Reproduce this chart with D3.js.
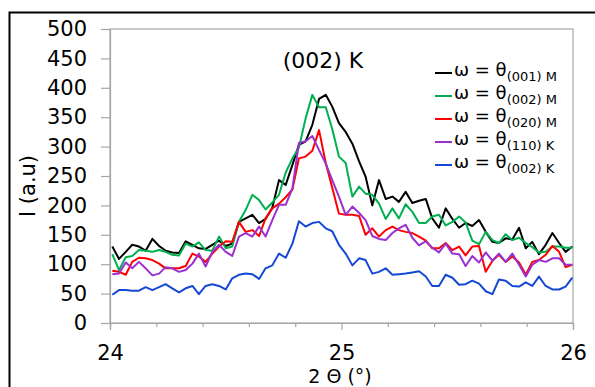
<!DOCTYPE html>
<html>
<head>
<meta charset="utf-8">
<title>(002) K rocking scans</title>
<script src="https://d3js.org/d3.v7.min.js"></script>
<style>
  body { margin: 0; background: #fff; }
  svg text { font-family: Verdana, "DejaVu Sans", sans-serif; fill: #000; }
</style>
</head>
<body>
<svg id="chart" width="595" height="387"></svg>
<script>
// 2 theta positions (deg)
var twoTheta = [24.010, 24.039, 24.068, 24.096, 24.125, 24.154, 24.183, 24.212, 24.240, 24.269,
                24.298, 24.327, 24.356, 24.384, 24.413, 24.442, 24.471, 24.500, 24.528, 24.557,
                24.586, 24.615, 24.644, 24.672, 24.701, 24.730, 24.759, 24.788, 24.816, 24.845,
                24.874, 24.903, 24.932, 24.960, 24.989, 25.018, 25.047, 25.076, 25.104, 25.133,
                25.162, 25.191, 25.220, 25.248, 25.277, 25.306, 25.335, 25.364, 25.392, 25.421,
                25.450, 25.479, 25.508, 25.536, 25.565, 25.594, 25.623, 25.652, 25.680, 25.709,
                25.738, 25.767, 25.796, 25.824, 25.853, 25.882, 25.911, 25.940, 25.968, 25.997];

// intensities (a.u), one list per omega setting
var om001M = [130, 109, 121, 133, 130, 123, 143, 131, 123, 120,
              119, 139, 133, 127, 126, 133, 140, 131, 135, 172,
              178, 184, 170, 177, 196, 243, 235, 269, 303, 309,
              337, 381, 388, 368, 340, 325, 305, 275, 249, 200,
              243, 211, 215, 206, 223, 204, 208, 211, 178, 162,
              195, 177, 162, 170, 165, 175, 155, 138, 136, 144,
              142, 162, 127, 138, 117, 133, 153, 136, 121, 130];
var om002M = [117, 90, 112, 114, 124, 123, 121, 124, 121, 116,
              115, 135, 130, 137, 124, 123, 147, 127, 130, 172,
              192, 218, 209, 193, 205, 218, 256, 280, 298, 348,
              388, 367, 367, 330, 283, 272, 215, 232, 220, 218,
              203, 177, 195, 178, 202, 189, 170, 170, 181, 184,
              166, 172, 181, 171, 140, 134, 155, 141, 136, 151,
              141, 145, 136, 129, 120, 121, 130, 130, 128, 128];
var om020M = [89, 87, 82, 104, 111, 110, 107, 101, 93, 93,
              93, 97, 118, 113, 104, 118, 130, 139, 138, 172,
              155, 158, 148, 178, 195, 203, 214, 227, 280, 283,
              293, 328, 272, 230, 186, 184, 184, 182, 150, 161,
              147, 158, 164, 158, 155, 153, 147, 140, 127, 127,
              136, 124, 130, 115, 130, 131, 87, 106, 116, 104,
              113, 103, 82, 104, 107, 116, 131, 121, 95, 99];
var om110K = [83, 84, 103, 93, 104, 93, 81, 84, 95, 93,
              87, 90, 101, 118, 96, 121, 133, 121, 114, 147,
              153, 147, 164, 147, 175, 201, 201, 229, 306, 309,
              318, 294, 271, 243, 215, 184, 198, 187, 175, 148,
              143, 141, 153, 161, 167, 145, 132, 139, 128, 120,
              135, 118, 117, 97, 114, 103, 120, 106, 118, 104,
              118, 99, 79, 99, 107, 104, 110, 110, 99, 99];
var om002K = [48, 56, 56, 55, 55, 61, 56, 61, 66, 59,
              52, 59, 63, 49, 63, 66, 63, 57, 76, 82,
              84, 83, 75, 93, 98, 118, 111, 135, 173, 164,
              170, 172, 161, 156, 133, 118, 98, 110, 107, 84,
              87, 93, 82, 83, 84, 86, 88, 79, 63, 63,
              82, 77, 65, 66, 72, 67, 54, 49, 74, 72,
              63, 62, 69, 63, 79, 63, 57, 57, 62, 77];

var seriesData = [om001M, om002M, om020M, om110K, om002K];
var seriesSubs = ["(001) M", "(002) M", "(020) M", "(110) K", "(002) K"];
var seriesColors = ["#000000", "#00b050", "#ff0000", "#9b30d0", "#1548d4"];

var yTicks = [0, 50, 100, 150, 200, 250, 300, 350, 400, 450, 500];
var xMajor = [24, 25, 26];
var xMinor = [24.2, 24.4, 24.6, 24.8, 25.2, 25.4, 25.6, 25.8];

var svg = d3.select("#chart");

var plotLeft = 110, plotRight = 573, plotTop = 29, plotBottom = 323;

var x = d3.scaleLinear().domain([24, 26]).range([plotLeft, plotRight]);
var y = d3.scaleLinear().domain([0, 500]).range([plotBottom, plotTop]);

// outer frame of the figure
svg.append("rect")
    .attr("x", 9.5).attr("y", 12.5)
    .attr("width", 620).attr("height", 420)
    .attr("fill", "none").attr("stroke", "#000").attr("stroke-width", 2);

// plot area border
svg.append("rect")
    .attr("x", plotLeft).attr("y", plotTop)
    .attr("width", plotRight - plotLeft).attr("height", plotBottom - plotTop)
    .attr("fill", "none").attr("stroke", "#a6a6a6").attr("stroke-width", 1.2);

// y axis
var yAxis = svg.append("g")
    .attr("transform", "translate(" + plotLeft + ",0)")
    .call(d3.axisLeft(y).tickValues(yTicks).tickSize(9).tickPadding(14));
yAxis.selectAll("path, line").attr("stroke", "#a6a6a6").attr("stroke-width", 1.2);
yAxis.selectAll("text").style("font-size", "21px")
    .style("font-family", "Verdana, 'DejaVu Sans', sans-serif");

// x axis, minor then major ticks
var xMinorAxis = svg.append("g")
    .attr("transform", "translate(0," + plotBottom + ")")
    .call(d3.axisBottom(x).tickValues(xMinor).tickSize(4).tickFormat(""));
xMinorAxis.selectAll("path, line").attr("stroke", "#a6a6a6").attr("stroke-width", 1.2);

var xAxis = svg.append("g")
    .attr("transform", "translate(0," + plotBottom + ")")
    .call(d3.axisBottom(x).tickValues(xMajor).tickSize(7).tickPadding(15).tickFormat(d3.format("d")));
xAxis.selectAll("path, line").attr("stroke", "#a6a6a6").attr("stroke-width", 1.2);
xAxis.selectAll("text").style("font-size", "21px")
    .style("font-family", "Verdana, 'DejaVu Sans', sans-serif");

// axis titles
svg.append("text")
    .attr("transform", "translate(35,186) rotate(-90)")
    .attr("text-anchor", "middle")
    .style("font-size", "21px")
    .text("I (a.u)");

svg.append("text")
    .attr("x", 340).attr("y", 383)
    .attr("text-anchor", "middle")
    .style("font-size", "19px")
    .text("2 Θ (°)");

// lines
var line = d3.line()
    .x(function(d, i) { return x(twoTheta[i]); })
    .y(function(d) { return y(d); });

seriesData.forEach(function(s, k) {
    svg.append("path")
        .datum(s)
        .attr("fill", "none")
        .attr("stroke", seriesColors[k])
        .attr("stroke-width", 2)
        .attr("stroke-linejoin", "round")
        .attr("d", line);
});

// annotation
svg.append("text")
    .attr("x", 323).attr("y", 68)
    .attr("text-anchor", "middle")
    .style("font-size", "22px")
    .text("(002) K");

// legend
var legend = svg.append("g");
seriesSubs.forEach(function(sub, k) {
    var ly = 73 + k * 23;
    legend.append("line")
        .attr("x1", 435).attr("x2", 452)
        .attr("y1", ly).attr("y2", ly)
        .attr("stroke", seriesColors[k]).attr("stroke-width", 2);
    var t = legend.append("text")
        .attr("x", 454).attr("y", ly + 3)
        .style("font-size", "18px");
    t.append("tspan").text("ω = θ");
    t.append("tspan")
        .attr("dy", 5)
        .style("font-size", "13px")
        .text(sub);
});
</script>
</body>
</html>
